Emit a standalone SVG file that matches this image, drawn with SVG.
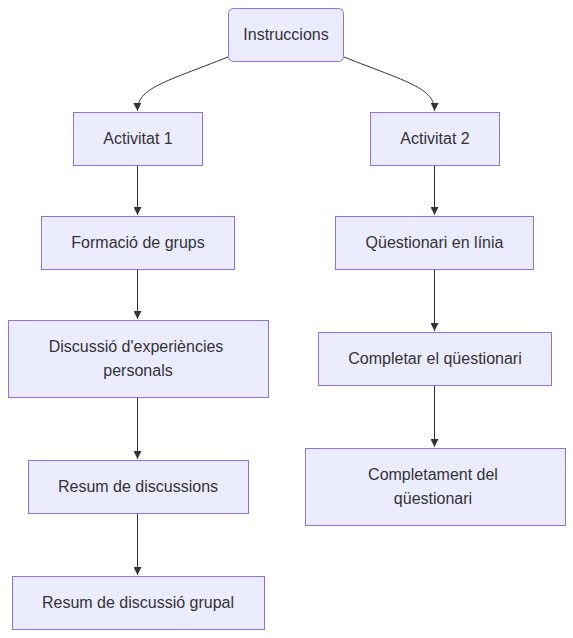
<svg xmlns="http://www.w3.org/2000/svg" width="573" height="638" viewBox="0 0 573 638">
<style>
.node rect{fill:#ECECFF;stroke:#9370DB;stroke-width:1}
.node text{font-family:"Liberation Sans",Arial,sans-serif;font-size:16px;fill:#333;text-anchor:middle;dominant-baseline:central}
.edge{fill:none;stroke:#333;stroke-width:1}
</style>
<defs>
<marker id="arr" viewBox="0 0 10 10" refX="10" refY="5" markerWidth="8" markerHeight="8" markerUnits="userSpaceOnUse" orient="auto">
<path d="M0,0 L10,5 L0,10 z" fill="#333"/>
</marker>
</defs>
<rect width="573" height="638" fill="#fff"/>
<g id="connectors">
<path class="edge" d="M228,57 C165,82 137,88 137.5,111" marker-end="url(#arr)"/>
<path class="edge" d="M344,57 C407,82 435,88 434.5,111" marker-end="url(#arr)"/>
<path class="edge" d="M137.5,165 L137.5,215" marker-end="url(#arr)"/>
<path class="edge" d="M137.5,269 L137.5,319" marker-end="url(#arr)"/>
<path class="edge" d="M137.5,397 L137.5,459" marker-end="url(#arr)"/>
<path class="edge" d="M137.5,513 L137.5,575" marker-end="url(#arr)"/>
<path class="edge" d="M434.5,165 L434.5,215" marker-end="url(#arr)"/>
<path class="edge" d="M434.5,269 L434.5,331" marker-end="url(#arr)"/>
<path class="edge" d="M434.5,385 L434.5,447" marker-end="url(#arr)"/>
</g>
<g id="n-instruccions" class="node"><rect x="228.5" y="8.5" width="115" height="53" rx="5" ry="5"/><text x="286" y="34">Instruccions</text></g>
<g id="n-activitat1" class="node"><rect x="73.5" y="112.5" width="129" height="53"/><text x="138" y="138">Activitat 1</text></g>
<g id="n-activitat2" class="node"><rect x="370.5" y="112.5" width="129" height="53"/><text x="435" y="138">Activitat 2</text></g>
<g id="n-formacio" class="node"><rect x="41.5" y="216.5" width="193" height="53"/><text x="138" y="242">Formació de grups</text></g>
<g id="n-questionari" class="node"><rect x="335.5" y="216.5" width="198" height="53"/><text x="434.5" y="242">Qüestionari en línia</text></g>
<g id="n-discussio" class="node"><rect x="8.5" y="320.5" width="260" height="77"/><text x="136" y="346">Discussió d'experiències</text><text x="138" y="370">personals</text></g>
<g id="n-completar" class="node"><rect x="318.5" y="332.5" width="233" height="53"/><text x="435" y="358">Completar el qüestionari</text></g>
<g id="n-resum" class="node"><rect x="28.5" y="460.5" width="220" height="53"/><text x="138" y="486">Resum de discussions</text></g>
<g id="n-completament" class="node"><rect x="305.5" y="448.5" width="260" height="77"/><text x="433" y="474">Completament del</text><text x="433" y="498">qüestionari</text></g>
<g id="n-resumgrupal" class="node"><rect x="12.5" y="576.5" width="252" height="53"/><text x="138" y="602">Resum de discussió grupal</text></g>
</svg>
